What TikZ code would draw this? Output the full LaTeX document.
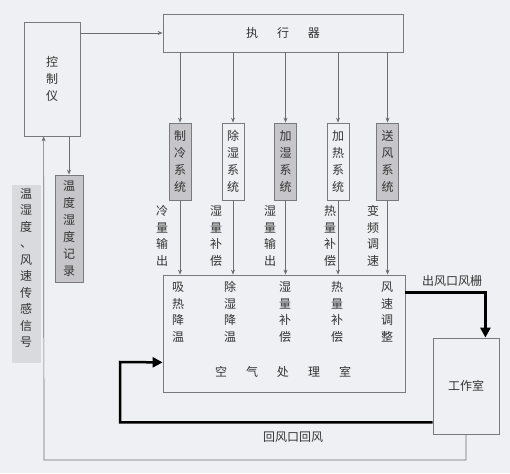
\documentclass[tikz,border=0pt]{standalone}
\usepackage{fontspec}
\setmainfont{Noto Sans CJK SC}
\usetikzlibrary{arrows.meta,calc}
\definecolor{bgc}{HTML}{EEF0F3}
\definecolor{shade}{HTML}{C6C6CA}
\definecolor{band}{HTML}{D9DADE}
\definecolor{edge}{HTML}{7A7A7E}
\definecolor{txt}{HTML}{333333}
\tikzset{
  box/.style={draw=edge,line width=0.8pt,inner sep=0pt,text=txt,font=\fontsize{12}{17}\selectfont,align=center},
  sysbox/.style={box,minimum width=22pt,minimum height=77pt},
  shaded/.style={fill=shade},
  lbl/.style={inner sep=0pt,text=txt,font=\fontsize{12}{16.5}\selectfont,align=center},
  arr/.style={draw=edge!90!black,line width=0.7pt,-{Stealth[length=5pt,width=4pt]}},
  thk/.style={draw=black,line width=2.5pt},
  thka/.style={thk,-{Triangle[length=10pt,width=10pt]}}
}
\begin{document}
\begin{tikzpicture}[x=1pt,y=-1pt]
\fill[bgc] (0,0) rectangle (510,473);
\useasboundingbox (0,0) rectangle (510,473);
% sensor band
\fill[band] (12,185) rectangle (41,363);
\node[lbl] (sens) at (26,268) {温\\湿\\度\\、\\风\\速\\传\\感\\信\\号};
% controller
\node[box,minimum width=56pt,minimum height=114pt] (ctrl) at (52,79) {控\\制\\仪};
% executor
\node[box,minimum width=240pt,minimum height=38pt] (exec) at (283,33) {执\hspace{19pt}行\hspace{19pt}器};
% systems
\node[sysbox,shaded] (s1) at (180,161.5) {制\\冷\\系\\统};
\node[sysbox] (s2) at (233,161.5) {除\\湿\\系\\统};
\node[sysbox,shaded] (s3) at (285.5,161.5) {加\\湿\\系\\统};
\node[sysbox] (s4) at (338,161.5) {加\\热\\系\\统};
\node[sysbox,shaded] (s5) at (387.5,161.5) {送\\风\\系\\统};
% recorder
\node[box,shaded,minimum width=28pt,minimum height=107pt] (rec) at (69,228.5) {温\\度\\湿\\度\\记\\录};
% air room
\node[box,minimum width=242pt,minimum height=117pt] (room) at (284,333.5) {};
\node[lbl] (r1) at (178,312) {吸\\热\\降\\温};
\node[lbl] (r2) at (230,312) {除\\湿\\降\\温};
\node[lbl] (r3) at (285,312) {湿\\量\\补\\偿};
\node[lbl] (r4) at (337,312) {热\\量\\补\\偿};
\node[lbl] (r5) at (387,312) {风\\速\\调\\整};
\node[lbl] (rt) at (283,372) {空\hspace{19pt}气\hspace{19pt}处\hspace{19pt}理\hspace{19pt}室};
% workroom
\node[box,minimum width=66pt,minimum height=96pt] (work) at (466,386) {工作室};
% labels on system outputs
\node[lbl] (l1) at (162,236) {冷\\量\\输\\出};
\node[lbl] (l2) at (216,236) {湿\\量\\补\\偿};
\node[lbl] (l3) at (270,236) {湿\\量\\输\\出};
\node[lbl] (l4) at (330,236) {热\\量\\补\\偿};
\node[lbl] (l5) at (373,236) {变\\频\\调\\速};
% connectors
\draw[arr] (ctrl.east |- exec.west) -- (exec.west);
\foreach \s in {s1,s2,s3,s4,s5}{
  \draw[arr] (exec.south -| \s.north) -- (\s.north);
  \draw[arr] (\s.south) -- (\s.south |- room.north);
}
\draw[arr] (rec.north |- ctrl.south) -- (rec.north);
% outlet
\draw[thka] ($(room.north east)+(0,18)$) -| ($(work.north east)+(-14,0)$);
\node[lbl,anchor=south] (outl) at (452,287) {出风口风栅};
% return
\coordinate (rtc) at (120,362);
\draw[thka] ($(work.south west)+(0,-12)$) -| (rtc) -- ($(room.south west)+(0,-30)$);
\node[lbl] (retl) at (293,437) {回风口回风};
% feedback
\coordinate (fb) at (44,460);
\draw[arr] (work.south) |- (fb) -- ($(ctrl.south west)+(20,0)$);
\end{tikzpicture}
\end{document}
